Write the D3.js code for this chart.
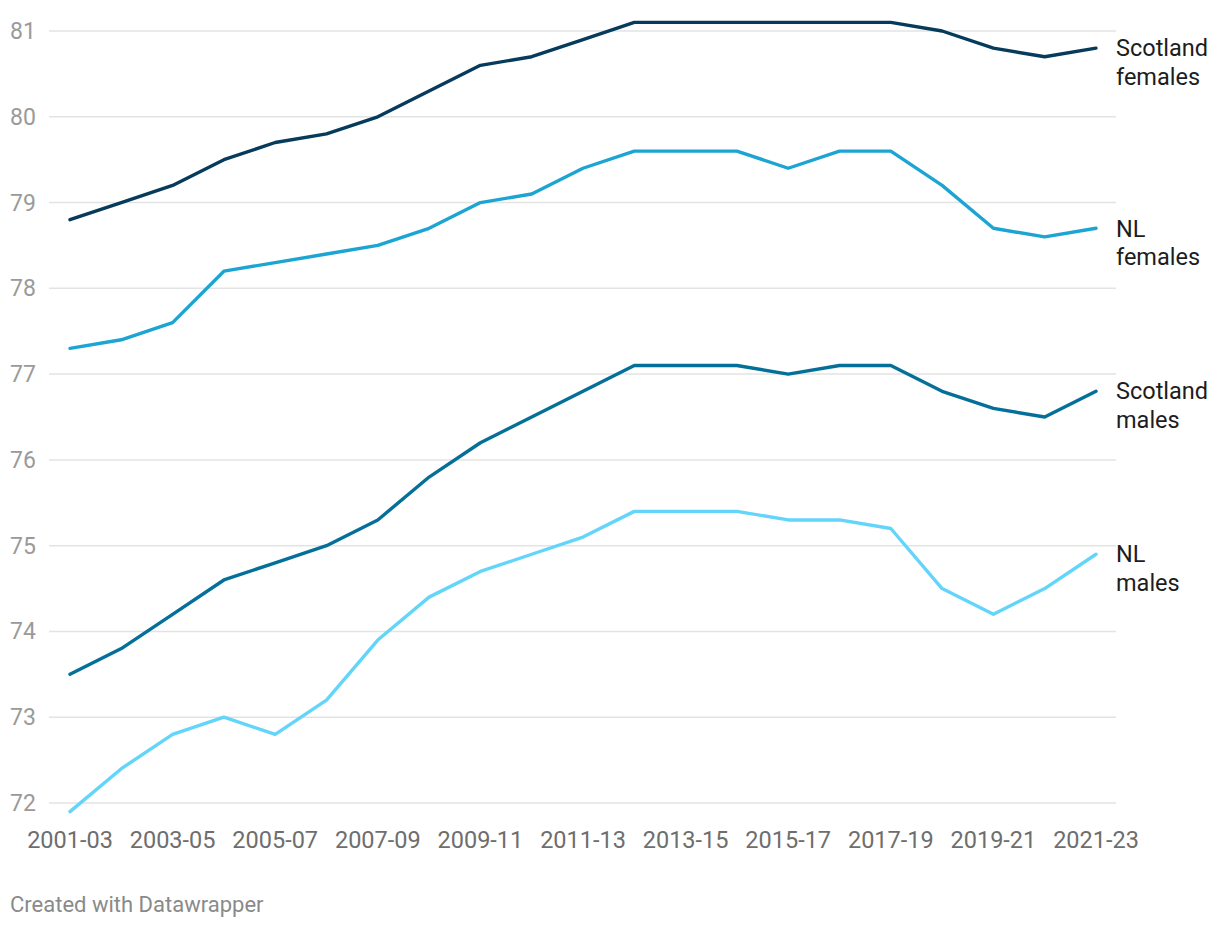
<!DOCTYPE html>
<html>
<head>
<meta charset="utf-8">
<script src="https://cdn.jsdelivr.net/npm/d3@7"></script>
<style>
  body { margin: 0; background: #fff; font-family: Roboto, "Noto Sans", sans-serif; }
</style>
</head>
<body>
<svg id="canvas"></svg>
<script>
const svg = d3.select("#canvas");

svg
  .attr('width', 1220)
  .attr('height', 928)
  .style("background-color", "#ffffff")

// periods (3-year rolling)
const periods = ["2001-03", "2002-04", "2003-05", "2004-06", "2005-07", "2006-08", "2007-09",
  "2008-10", "2009-11", "2010-12", "2011-13", "2012-14", "2013-15", "2014-16", "2015-17",
  "2016-18", "2017-19", "2018-20", "2019-21", "2020-22", "2021-23"];

const tickLabels = ["2001-03", "2003-05", "2005-07", "2007-09", "2009-11", "2011-13",
  "2013-15", "2015-17", "2017-19", "2019-21", "2021-23"];

const yTicks = [72, 73, 74, 75, 76, 77, 78, 79, 80, 81];

const scotlandFemales = [78.8, 79.0, 79.2, 79.5, 79.7, 79.8, 80.0, 80.3, 80.6, 80.7, 80.9,
  81.1, 81.1, 81.1, 81.1, 81.1, 81.1, 81.0, 80.8, 80.7, 80.8];
const nlFemales = [77.3, 77.4, 77.6, 78.2, 78.3, 78.4, 78.5, 78.7, 79.0, 79.1, 79.4,
  79.6, 79.6, 79.6, 79.4, 79.6, 79.6, 79.2, 78.7, 78.6, 78.7];
const scotlandMales = [73.5, 73.8, 74.2, 74.6, 74.8, 75.0, 75.3, 75.8, 76.2, 76.5, 76.8,
  77.1, 77.1, 77.1, 77.0, 77.1, 77.1, 76.8, 76.6, 76.5, 76.8];
const nlMales = [71.9, 72.4, 72.8, 73.0, 72.8, 73.2, 73.9, 74.4, 74.7, 74.9, 75.1,
  75.4, 75.4, 75.4, 75.3, 75.3, 75.2, 74.5, 74.2, 74.5, 74.9];

const series = [
  { name: ["Scotland", "females"], values: scotlandFemales, color: "#063b5c" },
  { name: ["NL", "females"], values: nlFemales, color: "#1ca4d3" },
  { name: ["Scotland", "males"], values: scotlandMales, color: "#04709a" },
  { name: ["NL", "males"], values: nlMales, color: "#63d5fb" }
];

const x = d3.scalePoint()
  .domain(periods)
  .range([70, 1096]);

const y = d3.scaleLinear()
  .domain([72, 81])
  .range([803, 31]);

// gridlines + y labels
const grid = svg.append('g');
grid.selectAll('line')
  .data(yTicks)
  .join('line')
  .attr('x1', 49)
  .attr('x2', 1116)
  .attr('y1', d => y(d))
  .attr('y2', d => y(d))
  .attr('stroke', '#e3e3e3')
  .attr('stroke-width', 1.5);

grid.selectAll('text')
  .data(yTicks)
  .join('text')
  .attr('x', 10)
  .attr('y', d => y(d))
  .attr('dy', '0.35em')
  .attr('font-size', 23)
  .attr('fill', '#9a9a9a')
  .text(d => d);

// x axis labels
svg.append('g')
  .selectAll('text')
  .data(tickLabels)
  .join('text')
  .attr('x', d => x(d))
  .attr('y', 848)
  .attr('text-anchor', 'middle')
  .attr('font-size', 23.5)
  .attr('fill', '#6e6e6e')
  .text(d => d);

const line = d3.line()
  .x((d, i) => x(periods[i]))
  .y(d => y(d));

svg.append('g')
  .selectAll('path')
  .data(series)
  .join('path')
  .attr('d', d => line(d.values))
  .attr('fill', 'none')
  .attr('stroke', d => d.color)
  .attr('stroke-width', 3.4)
  .attr('stroke-linejoin', 'round')
  .attr('stroke-linecap', 'round');

// direct labels at the line ends
const labels = svg.append('g')
  .selectAll('text')
  .data(series)
  .join('text')
  .attr('x', 1116)
  .attr('y', d => Math.max(y(d.values[d.values.length - 1]), 48))
  .attr('font-size', 23.5)
  .attr('fill', '#1d1d1d');

labels.selectAll('tspan')
  .data(d => d.name)
  .join('tspan')
  .attr('x', 1116)
  .attr('dy', (d, i) => i === 0 ? '0.35em' : '1.2em')
  .text(d => d);

svg.append('text')
  .attr('x', 10)
  .attr('y', 912)
  .attr('font-size', 22)
  .attr('fill', '#8a8a8a')
  .text('Created with Datawrapper');
</script>
</body>
</html>
